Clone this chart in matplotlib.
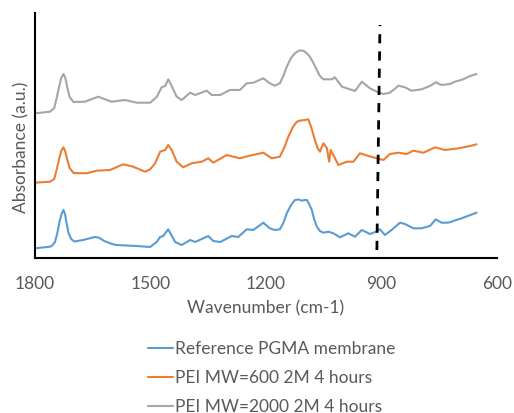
import matplotlib

matplotlib.use("Agg")
import matplotlib.pyplot as plt

# FTIR spectra (wavenumber in cm-1, absorbance in arbitrary offset units)
ref_wn = [1800, 1761, 1755, 1748, 1742, 1736, 1730, 1726, 1722, 1718, 1713, 1706, 1698,
          1675, 1660, 1645, 1635, 1620, 1600, 1588, 1536, 1501, 1484, 1475, 1467, 1454,
          1436, 1419, 1397, 1384, 1350, 1337, 1319, 1289, 1272, 1250, 1233, 1207, 1190,
          1177, 1164, 1155, 1146, 1135, 1125, 1115, 1107, 1100, 1094, 1088, 1081, 1075,
          1068, 1060, 1051, 1038, 1025, 1008, 986, 969, 951, 930, 914, 904, 891, 874,
          852, 839, 817, 796, 774, 759, 744, 727, 692, 653]
ref_abs = [9.7, 11.3, 12.5, 16, 25, 37, 45, 48, 44, 35, 25, 19, 16.5,
           18, 19.5, 21, 20.5, 17, 14, 13, 12, 11, 16, 21, 22, 28.7,
           16, 13, 18, 16, 22, 17, 16, 22, 21, 28.7, 28, 35.3, 29.7,
           28, 28.7, 35, 44.7, 53, 58, 58.5, 57.3, 58, 58, 54, 48, 39,
           31.3, 27, 25.3, 26.3, 24.7, 20.7, 24.7, 21.3, 28, 24, 26.3, 28.7, 23, 28,
           35.3, 34, 29.7, 29.7, 32, 38.7, 35.3, 35.3, 39.7, 45.3]

pei600_wn = [1800, 1761, 1750, 1744, 1738, 1732, 1726, 1721, 1716, 1710, 1700, 1666,
             1640, 1605, 1571, 1545, 1514, 1501, 1488, 1475, 1462, 1454, 1445, 1432,
             1415, 1393, 1367, 1350, 1337, 1302, 1268, 1246, 1207, 1185, 1164, 1153,
             1142, 1130, 1120, 1110, 1099, 1090, 1082, 1073, 1066, 1060, 1051, 1042,
             1036, 1032, 1025, 1012, 990, 973, 956, 934, 912, 895, 878, 856, 835, 817,
             791, 761, 735, 700, 670, 653]
pei600_abs = [75.3, 76.3, 79, 88, 98, 107, 110.7, 106, 98, 90, 85, 84.7,
              87.3, 88, 93.7, 91.3, 86.3, 88.7, 94.7, 106.3, 108, 113, 108, 96.3,
              90.7, 94.7, 96.3, 99.7, 95.3, 103, 99.7, 102, 105.3, 99.7, 101.3, 110,
              121.3, 131, 136.3, 137.5, 138, 138.7, 130, 118, 110, 106.3, 114.7, 110,
              96.3, 108, 103, 93, 96.3, 96.3, 104.7, 102, 99.7, 98, 104, 105.3, 104, 107.3,
              105.3, 110.7, 108, 109.7, 112, 113.7]

pei2000_wn = [1800, 1761, 1750, 1744, 1738, 1732, 1726, 1721, 1716, 1710, 1700, 1670,
              1636, 1601, 1566, 1536, 1501, 1484, 1471, 1462, 1454, 1445, 1432, 1419,
              1397, 1384, 1354, 1341, 1319, 1294, 1268, 1250, 1233, 1207, 1190, 1177,
              1164, 1155, 1146, 1135, 1125, 1114, 1103, 1095, 1086, 1077, 1068, 1060,
              1051, 1029, 1021, 1003, 982, 969, 951, 930, 912, 895, 878, 856, 839, 822,
              796, 774, 759, 744, 722, 709, 688, 670, 653]
pei2000_abs = [144.7, 146.3, 150, 159.7, 170, 180, 184, 180, 170, 161, 156, 156.3,
               161.3, 156.3, 158, 155.3, 155.3, 161, 170.7, 172, 178.7, 172, 161.3, 158,
               165.3, 163, 167.3, 163, 163, 168, 168, 174.7, 175.3, 179.7, 174.7, 172.3,
               174.7, 182, 191.3, 200, 204.7, 207.5, 207.3, 205, 201.3, 195, 188, 182,
               178.7, 178.7, 180.7, 171.3, 168.7, 167, 176.3, 169.7, 166.3, 164, 165.3, 172.3,
               170.7, 167.3, 168.7, 172, 175.7, 173, 174, 176.3, 178.7, 182, 184]

series_labels = ["Reference PGMA membrane", "PEI MW=600 2M 4 hours", "PEI MW=2000 2M 4 hours"]
x_ticks = [1800, 1500, 1200, 900, 600]

# hand-drawn marker line near 900 cm-1
marker_wn = [912, 904]
marker_abs = [8, 233]

TEXT = "#595959"
plt.rcParams["font.family"] = ["Lato", "DejaVu Sans"]

fig = plt.figure(figsize=(5.14, 4.13), dpi=100)
ax = fig.add_axes([35 / 514, 155 / 413, 462 / 514, 245 / 413])

colors = ["#5B9BD5", "#ED7D31", "#A5A5A5"]
for wn, ab, label, color in zip(
    [ref_wn, pei600_wn, pei2000_wn],
    [ref_abs, pei600_abs, pei2000_abs],
    series_labels,
    colors,
):
    ax.plot(wn, ab, color=color, linewidth=1.5, label=label,
            solid_joinstyle="round", solid_capstyle="round")

ax.plot(marker_wn, marker_abs, color="black", linewidth=2.0,
        linestyle=(0, (3.3, 2.9)), solid_capstyle="butt")

ax.set_xlim(1800, 600)
ax.set_ylim(0, 245)
ax.set_xticks(x_ticks)
ax.set_xticklabels([str(t) for t in x_ticks])
ax.set_yticks([])
ax.tick_params(axis="x", length=0, pad=13, labelsize=12.5, labelcolor=TEXT)
for side in ("top", "right"):
    ax.spines[side].set_visible(False)
for side in ("left", "bottom"):
    ax.spines[side].set_color("black")
    ax.spines[side].set_linewidth(1.5)

ax.set_xlabel("Wavenumber (cm-1)", fontsize=12.5, color=TEXT, labelpad=6)
ax.set_ylabel("Absorbance (a.u.)", fontsize=12.5, color=TEXT)
ax.yaxis.set_label_coords(-0.011, 0.453)

# legend sits low, its last row runs off the bottom edge as in the source image
fig.legend(
    loc="upper left",
    bbox_to_anchor=(148 / 514, 1 - 341 / 413),
    frameon=False,
    fontsize=12.5,
    labelcolor=TEXT,
    handlelength=1.45,
    handletextpad=0.12,
    labelspacing=0.75,
    borderpad=0,
    borderaxespad=0,
)

fig.savefig("out.png", dpi=100)
plt.close(fig)
